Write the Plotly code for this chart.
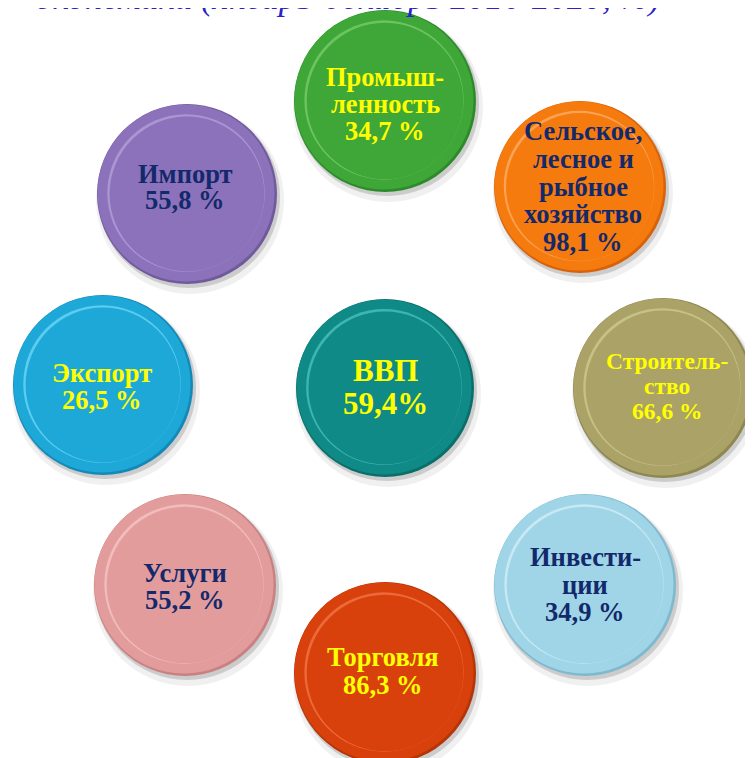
import plotly.graph_objects as go

# data ---------------------------------------------------------------------
names = ["ВВП", "Промышленность", "Сельское хозяйство", "Строительство",
         "Инвестиции", "Торговля", "Услуги", "Экспорт", "Импорт"]
label_lines = [
    ["ВВП"],
    ["Промыш-", "ленность"],
    ["Сельское,", "лесное и", "рыбное", "хозяйство"],
    ["Строитель-", "ство"],
    ["Инвести-", "ции"],
    ["Торговля"],
    ["Услуги"],
    ["Экспорт"],
    ["Импорт"],
]
values = [59.4, 34.7, 98.1, 66.6, 34.9, 86.3, 55.2, 26.5, 55.8]
title_text = "экономики (январь-декабрь 2016-2020, %)"

# layout (pixel space of the page) -----------------------------------------
W, H = 753, 758
PAD = 8  # page body margin
centers_x = [385, 385, 580, 663, 585, 385, 185, 103, 187]
centers_y = [388, 101, 187, 388, 585, 673, 585, 385, 194]
diam = [178, 182, 172, 180, 182, 182, 182, 180, 180]

face = ["#0f8a86", "#3fa638", "#f57b0e", "#aaa266", "#9fd5e7",
        "#d8400c", "#e39c9c", "#1ea8d8", "#8b72ba"]
edge = ["#0a6f6b", "#2d8a2a", "#d8620a", "#8e874f", "#7fb9cf",
        "#b53408", "#c98080", "#1489b8", "#6f5a9c"]
rim = ["#3fb5b0", "#6cc460", "#fca254", "#c8c186", "#c6e9f4",
       "#ec6a3a", "#f2bcbc", "#5ccdf0", "#ab96d2"]
text_col = ["#ffff00", "#ffff00", "#13296b", "#ffff00", "#13296b",
            "#ffff00", "#13296b", "#ffff00", "#13296b"]
font_size = [31, 26.5, 26.5, 23.5, 26.5, 26.5, 26.5, 26.5, 26.5]
line_gap = [33, 27, 27.7, 25, 27.5, 28, 27, 27, 26]
text_dx = [0, 0, 3, 4, 0, -2, 0, -1, -2]
text_dy = [-1.5, 3, -0.5, -2, -0.5, -2, 1.5, 1.5, -7]

fig = go.Figure()


def disc(dx, dy, scale, plus, color, hover=False):
    fig.add_trace(go.Scatter(
        x=[x + dx for x in centers_x], y=[y + dy for y in centers_y],
        mode="markers",
        marker=dict(size=[d * scale + plus for d in diam], color=color,
                    opacity=1, line_width=0),
        text=names if hover else None,
        hovertemplate="%{text}<extra></extra>" if hover else None,
        hoverinfo=None if hover else "skip", showlegend=False))


# soft shadows
disc(3, 6, 1, 8, "rgba(0,0,0,0.06)")
disc(2, 3, 1, 2, "rgba(0,0,0,0.15)")
# bevel: dark edge, ring, light lip, flat face
disc(0, 0, 1, 0, edge)
disc(-1, -1, 1, -3, face)
disc(-1, -1, 0.875, 0, rim)
disc(0, 0, 0.86, 0, face, hover=True)

# labels
for i, lines in enumerate(label_lines):
    sep = "" if names[i] == "ВВП" else " "
    rows = lines + [f"{values[i]:.1f}".replace(".", ",") + sep + "%"]
    n = len(rows)
    for k, row in enumerate(rows):
        fig.add_annotation(
            x=centers_x[i] + text_dx[i],
            y=centers_y[i] + text_dy[i] + (k - (n - 1) / 2) * line_gap[i],
            text=f"<b>{row}</b>", showarrow=False,
            font=dict(family="Liberation Serif", size=font_size[i], color=text_col[i]),
            xanchor="center", yanchor="middle")

# clipped heading at the top
fig.add_annotation(
    x=348, y=19, text=f"<i>{title_text}</i>", showarrow=False,
    font=dict(family="Liberation Serif", size=35, color="#2b22c6"),
    xanchor="center", yanchor="bottom")

fig.update_xaxes(range=[PAD, W], visible=False, fixedrange=True)
fig.update_yaxes(range=[H, PAD], visible=False, fixedrange=True)
fig.update_layout(
    width=W - PAD, height=H - PAD, margin=dict(l=0, r=0, t=0, b=0),
    paper_bgcolor="white", plot_bgcolor="white",
)

fig.write_html("out.html")
